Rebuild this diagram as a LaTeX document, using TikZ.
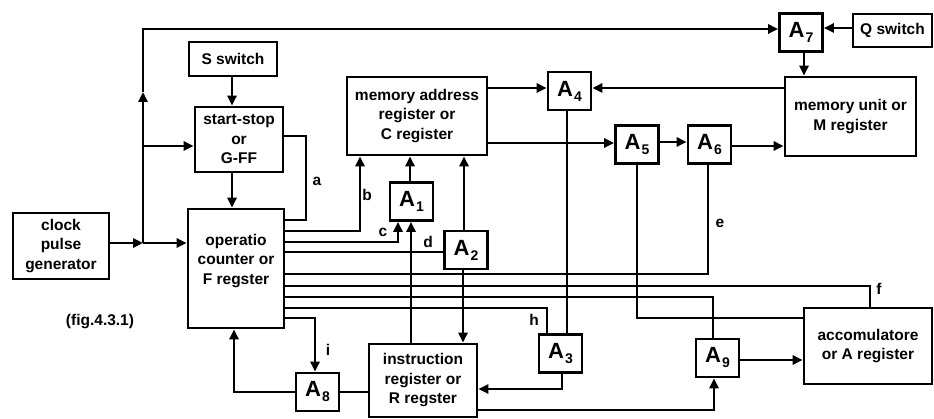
\documentclass[tikz,border=0pt]{standalone}
\usepackage{fontspec}
\setmainfont{Liberation Sans}
\usetikzlibrary{arrows.meta}
\newcommand\gatelbl[1]{A\kern1pt\raisebox{-5pt}{\fontsize{14}{14}\selectfont #1}}
\begin{document}
\begin{tikzpicture}[x=1pt,y=-1pt,line width=2.6pt,
  txt/.style={font=\bfseries\fontsize{15.5}{19.5}\selectfont, align=center},
  bx/.style={draw, inner sep=0pt, txt},
  gate/.style={draw, inner sep=0pt, minimum width=43pt, minimum height=38pt,
    font=\bfseries\fontsize{22}{22}\selectfont},
  lbl/.style={font=\bfseries\fontsize{15.5}{15.5}\selectfont, inner sep=0pt},
  arr/.style={-{Triangle[length=10pt,width=9pt]}}]
\useasboundingbox (0,0) rectangle (934,419);
% boxes
\node[bx, minimum width=96pt, minimum height=66pt] (clock) at (61,246) {clock\\pulse\\generator};
\node[bx, minimum width=88pt, minimum height=34pt] (Ssw) at (233,59) {S switch};
\node[bx, minimum width=88pt, minimum height=65pt] (SS) at (239,139.5) {start-stop\\or\\G-FF};
\node[bx, minimum width=96pt, minimum height=119pt] (F) at (236,268.5) {};
\node[txt] (Ft) at (236,261) {operatio\\counter or\\F regster};
\node[bx, minimum width=140pt, minimum height=78pt] (MAR) at (417,116) {memory address\\register or\\C register};
\node[bx, minimum width=131pt, minimum height=79pt] (Mem) at (850.5,116.5) {memory unit or\\M register};
\node[bx, minimum width=79pt, minimum height=33pt] (Q) at (892.5,30.5) {Q switch};
\node[bx, minimum width=128pt, minimum height=76pt] (Acc) at (868,346) {accomulatore\\or A register};
\node[bx, minimum width=108pt, minimum height=73pt] (R) at (423,380.5) {instruction\\register or\\R regster};
% gates
\node[gate] (A1) at (411.5,201.5) {\gatelbl{1}};
\node[gate] (A2) at (466,250) {\gatelbl{2}};
\node[gate] (A3) at (560.5,353.5) {\gatelbl{3}};
\node[gate] (A4) at (569.5,91) {\gatelbl{4}};
\node[gate] (A5) at (637,144.5) {\gatelbl{5}};
\node[gate] (A6) at (709.5,144.5) {\gatelbl{6}};
\node[gate] (A7) at (801,32.5) {\gatelbl{7}};
\node[gate] (A8) at (317.5,392) {\gatelbl{8}};
\node[gate] (A9) at (717.5,358) {\gatelbl{9}};
% junction coordinates
\coordinate (J) at (143,243);
\coordinate (Vm) at (143,92);
\coordinate (Tl) at (143,29);
\coordinate (Sj) at (143,146);
% clock distribution
\draw[arr] (clock.east |- J) -- (J);
\draw[arr] (J) -- (F.west |- J);
\draw[arr] (J) -- (Vm);
\draw[arr] (Vm) -- (Tl) -- (A7.west |- Tl);
\draw[arr] (Sj) -- (SS.west |- Sj);
\draw[arr] (Ssw.south -| 232,0) -- (SS.north -| 232,0);
\draw[arr] (SS.south -| 232,0) -- (F.north -| 232,0);
% F register lines
\draw (SS.east |- 0,136) -- (306,136) -- (306,220) -- (F.east |- 0,220);
\draw[arr] (F.east |- 0,231) -| (MAR.south -| 360,0);
\draw[arr] (F.east |- 0,242) -| (A1.south -| 398,0);
\draw (F.east |- 0,252) -- (A2.west |- 0,252);
\draw (F.east |- 0,274) -| (A6.south -| 708,0);
\draw (F.east |- 0,286) -| (Acc.north -| 870,0);
\draw (F.east |- 0,297) -| (A9.north -| 713,0);
\draw (F.east |- 0,308) -| (A3.north -| 547,0);
\draw[arr] (F.east |- 0,318) -| (A8.north -| 315,0);
% MAR / memory
\draw[arr] (MAR.east |- 0,88) -- (A4.west |- 0,88);
\draw[arr] (Mem.west |- 0,88) -- (A4.east |- 0,88);
\draw[arr] (MAR.east |- 0,143) -- (A5.west |- 0,143);
\draw[arr] (A5.east |- 0,142) -- (A6.west |- 0,142);
\draw[arr] (A6.east |- 0,146) -- (Mem.west |- 0,146);
\draw[arr] (A7.south -| 804,0) -- (Mem.north -| 804,0);
\draw[arr] (Q.west |- 0,28) -- (A7.east |- 0,28);
\draw (A4.south -| 567,0) -- (A3.north -| 567,0);
\draw[arr] (A3.south -| 562,0) |- (R.east |- 0,389);
\draw (A5.south) |- (Acc.west |- 0,318);
\draw[arr] (A9.east |- 0,360) -- (Acc.west |- 0,360);
\draw[arr] (R.east |- 0,410) -| (A9.south -| 714,0);
\draw[arr] (R.north -| 411,0) -- (A1.south -| 411,0);
\draw[arr] (A1.north -| 410,0) -- (MAR.south -| 410,0);
\draw[arr] (A2.north -| 464,0) -- (MAR.south -| 464,0);
\draw[arr] (A2.south -| 463,0) -- (R.north -| 463,0);
\draw (A8.east) -- (R.west |- A8.east);
\draw[arr] (A8.west) -| (F.south -| 234,0);
% labels
\node[lbl] (la) at (317,181) {a};
\node[lbl] (lb) at (367,195) {b};
\node[lbl] (lc) at (383,232) {c};
\node[lbl] (ld) at (428,242) {d};
\node[lbl] (le) at (720,223) {e};
\node[lbl] (lf) at (879,289) {f};
\node[lbl] (lh) at (534,320) {h};
\node[lbl] (li) at (328,350) {i};
\node[txt] (fig) at (100,322) {(fig.4.3.1)};
\end{tikzpicture}
\end{document}
